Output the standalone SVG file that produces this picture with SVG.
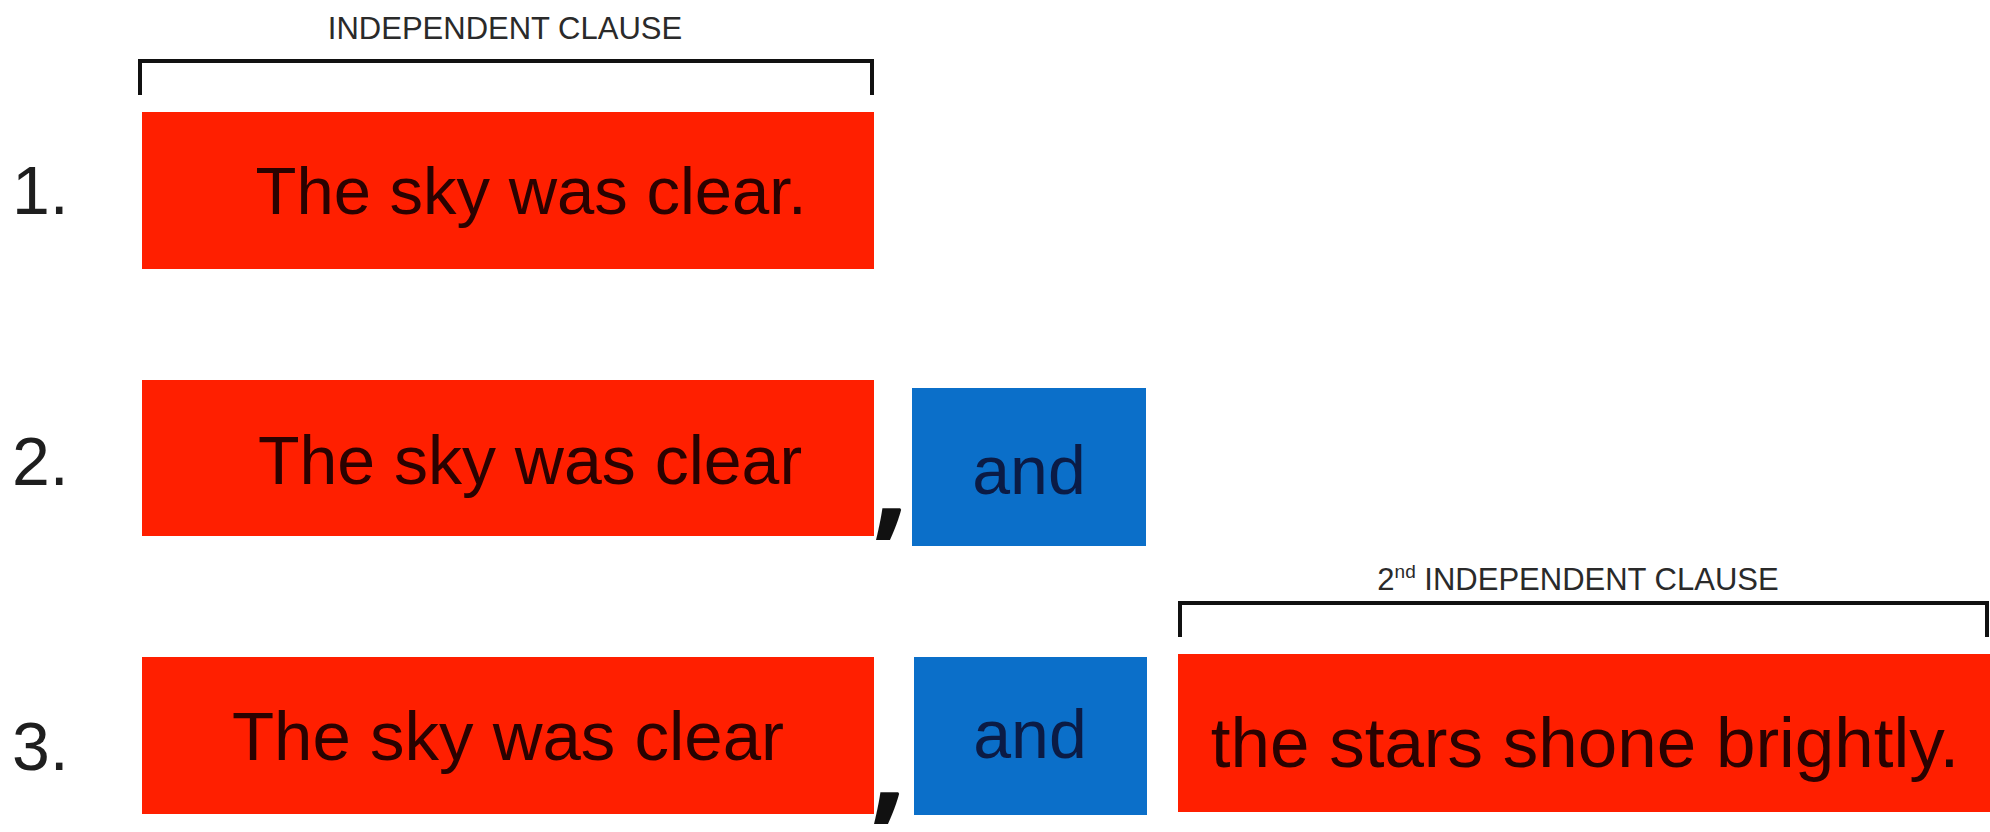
<svg xmlns="http://www.w3.org/2000/svg" width="1990" height="832" viewBox="0 0 1990 832">
<style>
.bg{fill:#ffffff}
.red{fill:#ff1f00}
.blue{fill:#0b6fc9}
.t{font-family:"Liberation Sans",Arial,sans-serif}
.rt{fill:#2a0200}
.bt{fill:#0b1b45}
.num{fill:#1e1e1e;font-size:68px}
.lab{fill:#2a2a2a;font-size:31px}
.br{fill:none;stroke:#111;stroke-width:4}
.cm{font-family:"Open Sans",sans-serif;font-weight:bold;fill:#111;font-size:130px}
</style>
<rect class="bg" x="0" y="0" width="1990" height="832"/>
<g id="labels">
<text class="t lab" x="505" y="39" text-anchor="middle">INDEPENDENT CLAUSE</text>
<text class="t lab" x="1578" y="590" text-anchor="middle">2<tspan font-size="19" dy="-12">nd</tspan><tspan dy="12"> INDEPENDENT CLAUSE</tspan></text>
</g>
<g id="connectors">
<path class="br" d="M140,95 V61 H872 V95"/>
<path class="br" d="M1180,637 V603 H1987 V637"/>
</g>
<g id="numbers">
<text class="t num" x="12" y="214">1.</text>
<text class="t num" x="12" y="485">2.</text>
<text class="t num" x="12" y="770">3.</text>
</g>
<g id="row1-clause">
<rect class="red" x="142" y="112" width="732" height="157"/>
<text class="t rt" x="531" y="214" font-size="67" text-anchor="middle">The sky was clear.</text>
</g>
<g id="row2-clause">
<rect class="red" x="142" y="380" width="732" height="156"/>
<text class="t rt" x="530" y="484" font-size="68" text-anchor="middle">The sky was clear</text>
</g>
<g id="row2-comma">
<text class="cm" x="872" y="523">,</text>
</g>
<g id="row2-and">
<rect class="blue" x="912" y="388" width="234" height="158"/>
<text class="t bt" x="1029" y="494" font-size="68" text-anchor="middle">and</text>
</g>
<g id="row3-clause">
<rect class="red" x="142" y="657" width="732" height="157"/>
<text class="t rt" x="508" y="760" font-size="69" text-anchor="middle">The sky was clear</text>
</g>
<g id="row3-comma">
<text class="cm" x="870" y="807">,</text>
</g>
<g id="row3-and">
<rect class="blue" x="914" y="657" width="233" height="158"/>
<text class="t bt" x="1030" y="758" font-size="68" text-anchor="middle">and</text>
</g>
<g id="row3-clause2">
<rect class="red" x="1178" y="654" width="812" height="158"/>
<text class="t rt" x="1585" y="767" font-size="71" text-anchor="middle">the stars shone brightly.</text>
</g>
</svg>
